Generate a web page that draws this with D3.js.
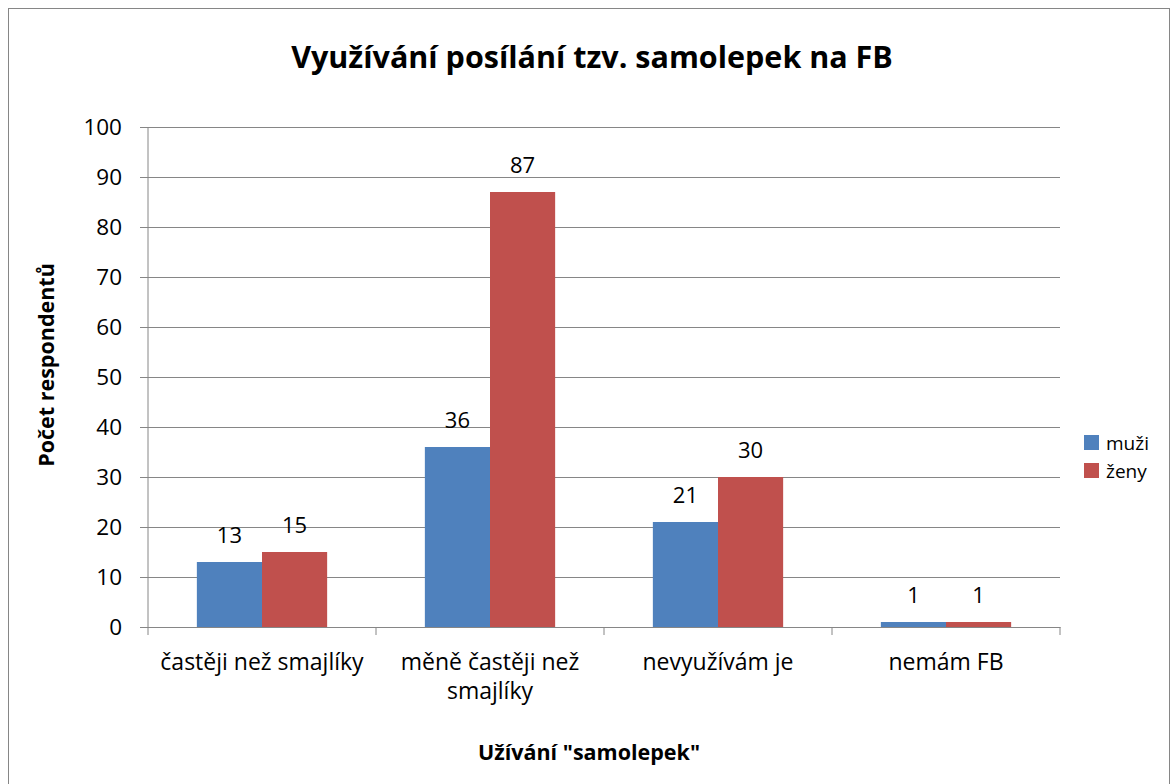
<!DOCTYPE html>
<html>
<head>
<meta charset="utf-8">
<style>
  body { margin: 0; background: #fff; }
  text { font-family: "Open Sans", "Noto Sans", sans-serif; fill: #000; }
</style>
</head>
<body>
<svg id="chart" width="1174" height="784"></svg>
<script src="https://d3js.org/d3.v7.min.js"></script>
<script>

var categories = ["častěji než smajlíky", "měně častěji než smajlíky", "nevyužívám je", "nemám FB"],
    seriesNames = ["muži", "ženy"],
    muzi = [13, 36, 21, 1],
    zeny = [15, 87, 30, 1],
    yTicks = [0, 10, 20, 30, 40, 50, 60, 70, 80, 90, 100],
    colors = ["#4F81BD", "#C0504D"];

var svg = d3.select("#chart"),
    margin = {top: 127, right: 114, bottom: 157, left: 148},
    width = 1174 - margin.left - margin.right,
    height = 784 - margin.top - margin.bottom;

// outer border
svg.append("rect")
    .attr("x", 8.5).attr("y", 8.5)
    .attr("width", 1161).attr("height", 790)
    .attr("fill", "#fff")
    .attr("stroke", "#868686");

var g = svg.append("g").attr("transform", "translate(" + margin.left + "," + margin.top + ")");

var x0 = d3.scaleBand().domain(categories).range([0, width]).paddingInner(0).paddingOuter(0);
var x1 = d3.scaleBand().domain(seriesNames).range([0, x0.bandwidth()]).paddingInner(0).paddingOuter(0.75);
var y = d3.scaleLinear().domain([0, 100]).range([height, 0]);

// gridlines + y axis
var yAxis = g.append("g")
    .call(d3.axisLeft(y).tickValues(yTicks).tickSize(-width).tickPadding(26).tickSizeOuter(0));
yAxis.select(".domain").remove();
yAxis.selectAll(".tick line").attr("stroke", "#868686").attr("x1", -8);
yAxis.selectAll(".tick text").attr("font-size", 22.5).attr("fill", "#000");

g.append("line")
    .attr("x1", 0).attr("x2", 0).attr("y1", 0).attr("y2", height)
    .attr("stroke", "#868686");

// x axis
var xAxis = g.append("g")
    .attr("transform", "translate(0," + height + ")")
    .call(d3.axisBottom(x0).tickSize(0).tickPadding(0));
xAxis.select(".domain").attr("stroke", "#868686");
xAxis.selectAll(".tick text").remove();
g.append("g").selectAll("line")
    .data(d3.range(categories.length + 1))
    .join("line")
    .attr("x1", function(i) { return i * x0.bandwidth(); })
    .attr("x2", function(i) { return i * x0.bandwidth(); })
    .attr("y1", height).attr("y2", height + 8)
    .attr("stroke", "#868686");

var catLines = [["častěji než smajlíky"], ["měně častěji než", "smajlíky"], ["nevyužívám je"], ["nemám FB"]];
g.append("g").selectAll("text")
    .data(categories)
    .join("text")
    .attr("x", function(d) { return x0(d) + x0.bandwidth() / 2; })
    .attr("y", height + 43)
    .attr("text-anchor", "middle")
    .attr("font-size", 23)
    .each(function(d, i) {
      d3.select(this).selectAll("tspan")
        .data(catLines[i])
        .join("tspan")
        .attr("x", x0(d) + x0.bandwidth() / 2)
        .attr("dy", function(t, j) { return j === 0 ? 0 : 29; })
        .text(function(t) { return t; });
    });

// bars
var rows = categories.map(function(c, i) { return {cat: c, values: [muzi[i], zeny[i]]}; });
var groups = g.append("g").selectAll("g")
    .data(rows)
    .join("g")
    .attr("transform", function(d) { return "translate(" + x0(d.cat) + ",0)"; });

groups.selectAll("rect")
    .data(function(d) { return d.values.map(function(v, j) { return {key: seriesNames[j], value: v, j: j}; }); })
    .join("rect")
    .attr("x", function(d) { return x1(d.key); })
    .attr("y", function(d) { return y(d.value); })
    .attr("width", x1.bandwidth())
    .attr("height", function(d) { return height - y(d.value); })
    .attr("fill", function(d) { return colors[d.j]; });

groups.selectAll("text")
    .data(function(d) { return d.values.map(function(v, j) { return {key: seriesNames[j], value: v}; }); })
    .join("text")
    .attr("x", function(d) { return x1(d.key) + x1.bandwidth() / 2; })
    .attr("y", function(d) { return y(d.value) - 19; })
    .attr("text-anchor", "middle")
    .attr("font-size", 22)
    .text(function(d) { return d.value; });

// title
svg.append("text")
    .attr("x", 592).attr("y", 68)
    .attr("text-anchor", "middle")
    .attr("font-size", 30.5)
    .attr("font-weight", "bold")
    .text("Využívání posílání tzv. samolepek na FB");

// axis titles
svg.append("text")
    .attr("transform", "translate(54,365) rotate(-90)")
    .attr("text-anchor", "middle")
    .attr("font-size", 21.5)
    .attr("font-weight", "bold")
    .text("Počet respondentů");

svg.append("text")
    .attr("x", 589).attr("y", 760)
    .attr("text-anchor", "middle")
    .attr("font-size", 21.5)
    .attr("font-weight", "bold")
    .text("Užívání \"samolepek\"");

// legend
var legend = svg.append("g").selectAll("g")
    .data(seriesNames)
    .join("g")
    .attr("transform", function(d, i) { return "translate(1084," + (435 + i * 28) + ")"; });
legend.append("rect")
    .attr("width", 15).attr("height", 15)
    .attr("fill", function(d, i) { return colors[i]; });
legend.append("text")
    .attr("x", 22).attr("y", 15)
    .attr("font-size", 19)
    .text(function(d) { return d; });

</script>
</body>
</html>
